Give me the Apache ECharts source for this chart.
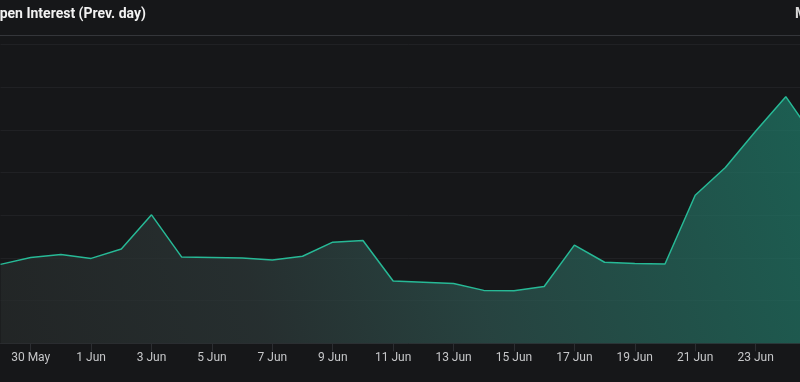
<!DOCTYPE html>
<html>
<head>
<meta charset="utf-8">
<style>
html,body{margin:0;padding:0;background:#161719;width:800px;height:382px;overflow:hidden;}
#chart{width:816px;height:382px;}
</style>
<script src="https://cdn.jsdelivr.net/npm/echarts@6/dist/echarts.min.js"></script>
</head>
<body>
<div id="chart"></div>
<script>
const titleText = "Open Interest (Prev. day)";
const categories = ["29 May","30 May","31 May","1 Jun","2 Jun","3 Jun","4 Jun","5 Jun","6 Jun","7 Jun","8 Jun","9 Jun","10 Jun","11 Jun","12 Jun","13 Jun","14 Jun","15 Jun","16 Jun","17 Jun","18 Jun","19 Jun","20 Jun","21 Jun","22 Jun","23 Jun","24 Jun","25 Jun"];
const openInterest = [18.5,20.1,20.8,19.9,22.1,30.1,20.2,20.1,20.0,19.5,20.4,23.7,24.1,14.6,14.3,14.0,12.4,12.3,13.3,23.0,19.0,18.7,18.6,34.7,41.2,49.7,57.8,47.6];

const lastIdx = categories.length - 1;
const chart = echarts.init(document.getElementById('chart'), null, {renderer:'canvas'});
chart.setOption({
  backgroundColor: '#161719',
  animation: false,
  graphic: [
    {type:'text', left:-10, top:7, style:{text:titleText, fill:'#f2f2f2', font:'bold 14px Roboto, "Noto Sans", sans-serif'}},
    {type:'text', left:795, top:7, style:{text:'M', fill:'#d8d8d8', font:'bold 14px Roboto, "Noto Sans", sans-serif'}},
    {type:'line', shape:{x1:0, y1:35.5, x2:816, y2:35.5}, style:{stroke:'#34363a', lineWidth:1}}
  ],
  grid: {left: 0.5, right: 0, top: 44.6, bottom: 38.7, containLabel:false, outerBoundsMode:'none'},
  xAxis: {
    type: 'category',
    data: categories,
    boundaryGap: false,
    axisLine: {show:true, lineStyle:{color:'#2a2c30', width:1}},
    axisTick: {show:true, length:8, interval:(i)=> i % 2 === 1 && i < lastIdx, lineStyle:{color:'#2c2e32'}},
    axisLabel: {interval:(i)=> i % 2 === 1 && i < lastIdx, color:'#c6c7c9', fontSize:12, fontFamily:'Roboto, sans-serif', margin:9},
    splitLine: {show:false}
  },
  yAxis: {
    type: 'value',
    min: 0, max: 70, interval: 10,
    axisLabel: {show:false},
    axisLine: {show:false},
    axisTick: {show:false},
    splitLine: {show:true, lineStyle:{color:'#202124', width:1}}
  },
  series: [{
    type: 'line',
    data: openInterest,
    symbol: 'none',
    lineStyle: {color:'#27b996', width:1.5},
    areaStyle: {
      color: new echarts.graphic.LinearGradient(0, 1, 1, 0, [
        {offset:0, color:'#272b2b'},
        {offset:0.3, color:'#2d3939'},
        {offset:0.55, color:'#2e5550'},
        {offset:1, color:'#1e7e6b'}
      ])
    }
  }]
});
</script>
</body>
</html>
